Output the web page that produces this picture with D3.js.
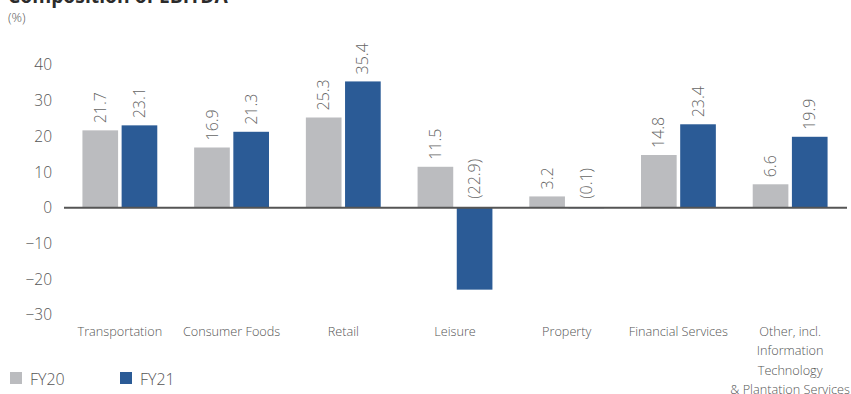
<!DOCTYPE html>
<html>
<head>
<meta charset="utf-8">
<script src="https://cdn.jsdelivr.net/npm/d3@7"></script>
<style>
  html, body { margin: 0; padding: 0; background: #fff; }
  svg { display: block; }
  text { font-family: "Open Sans", "Noto Sans", sans-serif; }
</style>
</head>
<body>
<svg id="chart" width="851" height="394"></svg>
<script>
// EBITDA composition by segment (%)
const categories = [
  ["Transportation"],
  ["Consumer Foods"],
  ["Retail"],
  ["Leisure"],
  ["Property"],
  ["Financial Services"],
  ["Other, incl.", "Information", "Technology", "& Plantation Services"]
];
const seriesNames = ["FY20", "FY21"];
const fy20 = [21.7, 16.9, 25.3, 11.5, 3.2, 14.8, 6.6];
const fy21 = [23.1, 21.3, 35.4, -22.9, -0.1, 23.4, 19.9];
const yTicks = [40, 30, 20, 10, 0, -10, -20, -30];

const colors = { FY20: "#bbbcbf", FY21: "#2b5b96" };
const seriesValues = { FY20: fy20, FY21: fy21 };

const svg = d3.select("#chart");

const x = d3.scaleBand()
  .domain(d3.range(categories.length))
  .range([64, 846])
  .paddingInner(0.33)
  .paddingOuter(0.165);

const inner = d3.scaleBand()
  .domain(seriesNames)
  .range([0, x.bandwidth()])
  .paddingInner(0.09);

const y = d3.scaleLinear().domain([-30, 40]).range([315, 65]);

// Title (partially above the visible area)
svg.append("text")
  .attr("x", 8).attr("y", 3)
  .attr("font-size", 19.3).attr("font-weight", 700)
  .attr("fill", "#2b2b2b")
  .text("Composition of EBITDA");

svg.append("text")
  .attr("x", 8).attr("y", 22)
  .attr("font-size", 13).attr("font-weight", 300)
  .attr("fill", "#555")
  .text("(%)");

// Y axis labels only
const yAxis = d3.axisLeft(y).tickValues(yTicks).tickSize(0).tickPadding(0)
  .tickFormat(d3.format("d"));
const gy = svg.append("g").attr("transform", "translate(52,0)").call(yAxis);
gy.select(".domain").remove();
gy.selectAll("text")
  .attr("font-size", 15.5).attr("fill", "#555")
  .attr("font-family", "'Open Sans', sans-serif").attr("font-weight", 300);

// Bars
const groups = svg.append("g").selectAll("g")
  .data(categories)
  .join("g")
  .attr("transform", (d, i) => `translate(${x(i)},0)`);

seriesNames.forEach(s => {
  groups.append("rect")
    .attr("x", inner(s))
    .attr("width", inner.bandwidth())
    .attr("y", (d, i) => y(Math.max(0, seriesValues[s][i])))
    .attr("height", (d, i) => Math.abs(y(seriesValues[s][i]) - y(0)))
    .attr("fill", colors[s]);

  groups.append("text")
    .attr("transform", (d, i) => {
      const v = seriesValues[s][i];
      const cx = inner(s) + inner.bandwidth() / 2;
      const cy = y(Math.max(0, v)) - (v < 0 ? 9 : 7);
      return `translate(${cx},${cy}) rotate(-90)`;
    })
    .attr("dy", "0.35em")
    .attr("font-size", 16).attr("font-weight", 300)
    .attr("fill", "#666")
    .text((d, i) => {
      const v = seriesValues[s][i];
      return v < 0 ? `(${Math.abs(v).toFixed(1)})` : v.toFixed(1);
    });
});

// Zero baseline
svg.append("line")
  .attr("x1", 64).attr("x2", 847)
  .attr("y1", y(0)).attr("y2", y(0))
  .attr("stroke", "#555").attr("stroke-width", 2);

// Category labels
const gx = svg.append("g");
categories.forEach((lines, i) => {
  const t = gx.append("text")
    .attr("x", x(i) + x.bandwidth() / 2)
    .attr("y", 336)
    .attr("text-anchor", "middle")
    .attr("font-size", 12.7).attr("font-weight", 300)
    .attr("fill", "#555");
  lines.forEach((ln, k) => {
    t.append("tspan")
      .attr("x", x(i) + x.bandwidth() / 2)
      .attr("dy", k === 0 ? 0 : 19.3)
      .text(ln);
  });
});

// Legend
const legend = svg.append("g");
seriesNames.forEach((s, k) => {
  const lx = 10 + k * 110;
  legend.append("rect")
    .attr("x", lx).attr("y", 372).attr("width", 12).attr("height", 12)
    .attr("fill", colors[s]);
  legend.append("text")
    .attr("x", lx + 20).attr("y", 385)
    .attr("font-size", 16).attr("font-weight", 300)
    .attr("fill", "#555")
    .text(s);
});
</script>
</body>
</html>
